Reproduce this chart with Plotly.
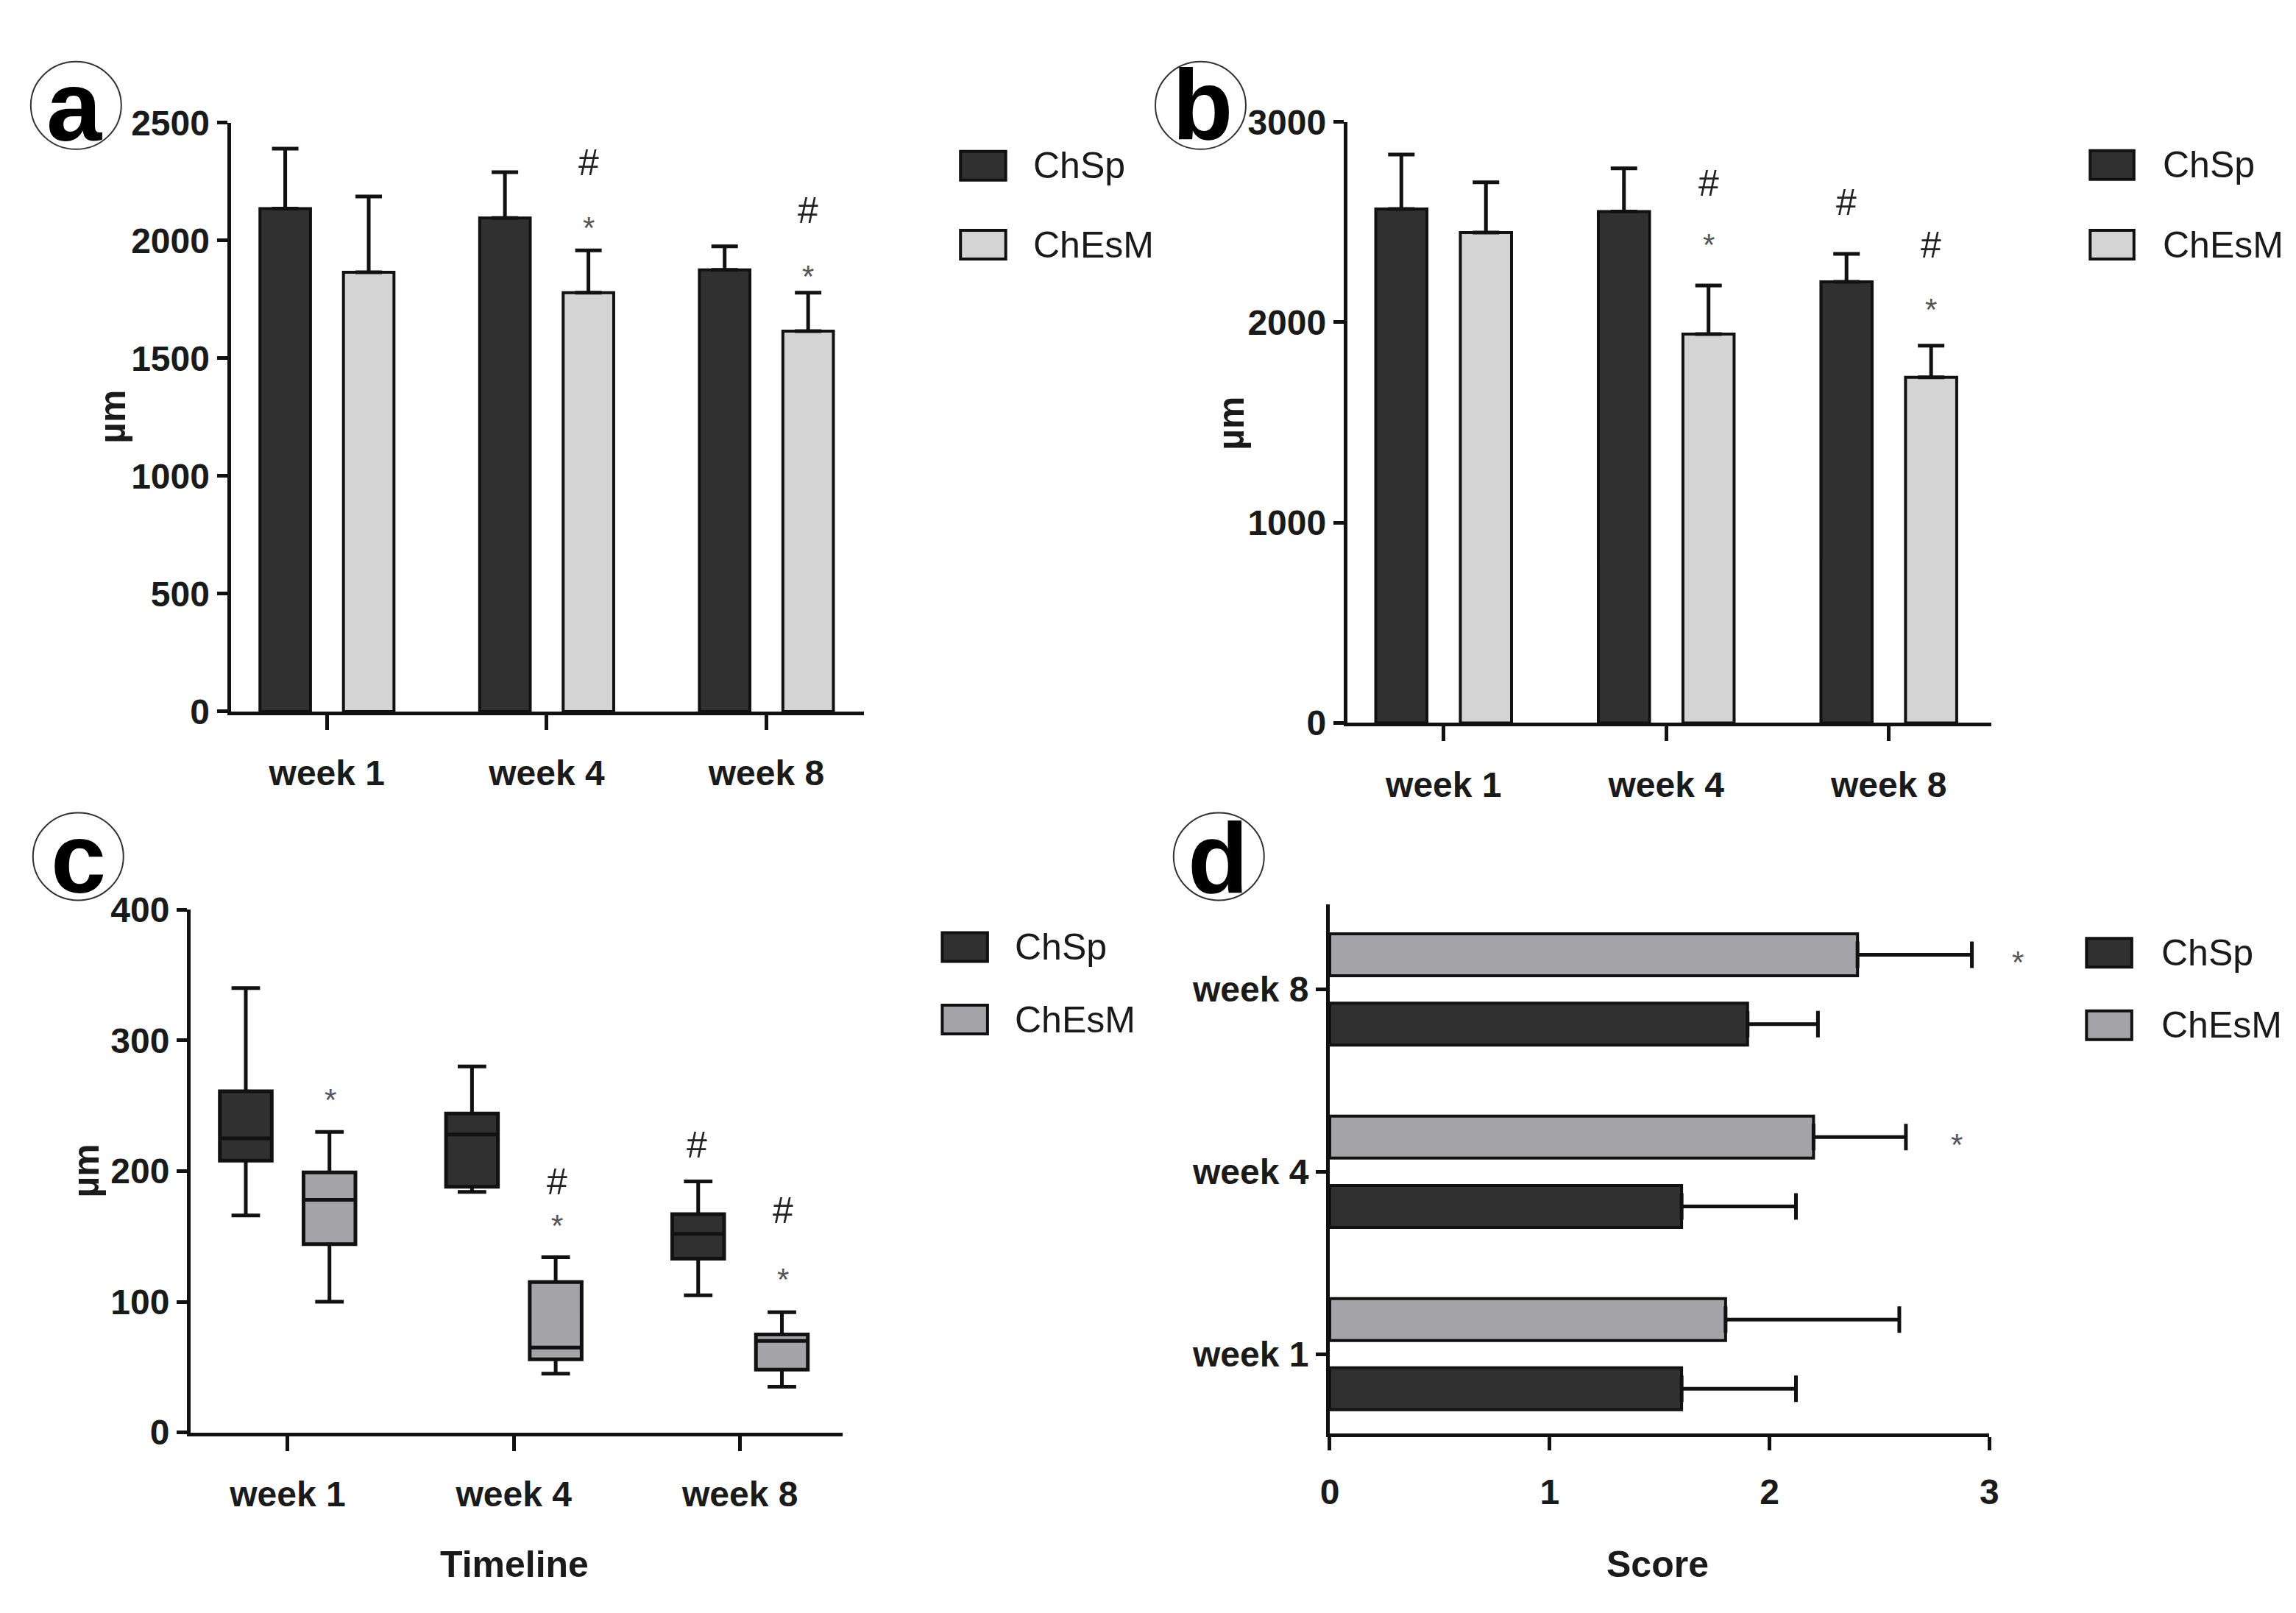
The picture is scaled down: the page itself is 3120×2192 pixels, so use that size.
import plotly.graph_objects as go

W, H = 3120, 2192

groups = ["ChSp", "ChEsM"]
weeks = ["week 1", "week 4", "week 8"]

# panel a (um)
a_chsp = [2135, 2095, 1875]
a_chsp_err = [255, 195, 100]
a_chesm = [1865, 1778, 1615]
a_chesm_err = [322, 180, 163]

# panel b (um)
b_chsp = [2566, 2553, 2202]
b_chsp_err = [271, 216, 140]
b_chesm = [2448, 1941, 1725]
b_chesm_err = [251, 243, 158]

# panel c box stats (um)
c_chsp_lo = [166, 184, 105]
c_chsp_q1 = [208, 188, 133]
c_chsp_med = [225, 228, 152]
c_chsp_q3 = [261, 244, 167]
c_chsp_hi = [340, 280, 192]
c_chesm_lo = [100, 45, 35]
c_chesm_q1 = [144, 56, 48]
c_chesm_med = [178, 65, 70]
c_chesm_q3 = [199, 115, 75]
c_chesm_hi = [230, 134, 92]

# panel d (score)
d_chsp = [1.6, 1.6, 1.9]
d_chsp_err = [0.52, 0.52, 0.32]
d_chesm = [1.8, 2.2, 2.4]
d_chesm_err = [0.79, 0.42, 0.52]

# significance marks: (week index, group index, symbol, value)
a_marks = [(1, 1, "#", 2330), (1, 1, "*", 2084), (2, 1, "#", 2126), (2, 1, "*", 1880)]
b_marks = [(1, 1, "#", 2694), (1, 1, "*", 2423), (2, 0, "#", 2598),
           (2, 1, "#", 2385), (2, 1, "*", 2101)]
c_marks = [(0, 1, "*", 260), (1, 1, "#", 192), (1, 1, "*", 164), (2, 0, "#", 220),
           (2, 1, "#", 170), (2, 1, "*", 123)]
d_marks = [(1, 1, "*", 2.85), (2, 1, "*", 3.13)]

DARK = "#303030"
LIGHT = "#d4d4d4"
MID = "#a3a3a8"
LINE = "#111111"
FONT = "Liberation Sans, Arial, sans-serif"

BW = 0.23
OFF = [-0.305, 0.075]
CENTERS = [-0.19, 0.19]

# panel d x-axis domain in pixels (for marks placed past the axis end)
D_X0, D_X1, D_MAX = 1801, 2705, 3


def px(x):
    return x / W


def py(y):
    return 1 - y / H


fig = go.Figure()


def add_bars(vals, errs, color, gi, xa, ya, horizontal=False):
    err = dict(type="data", array=errs, arrayminus=[0] * len(errs), symmetric=False,
               thickness=5, width=18, color=LINE)
    if horizontal:
        fig.add_trace(go.Bar(y=weeks, x=vals, orientation="h", width=BW, offset=OFF[gi],
                             marker=dict(color=color, line=dict(color=LINE, width=4)),
                             error_x=err, xaxis=xa, yaxis=ya, showlegend=False))
    else:
        fig.add_trace(go.Bar(x=weeks, y=vals, width=BW, offset=OFF[gi],
                             marker=dict(color=color, line=dict(color=LINE, width=4)),
                             error_y=err, xaxis=xa, yaxis=ya, showlegend=False))


add_bars(a_chsp, a_chsp_err, DARK, 0, "x", "y")
add_bars(a_chesm, a_chesm_err, LIGHT, 1, "x", "y")
add_bars(b_chsp, b_chsp_err, DARK, 0, "x2", "y2")
add_bars(b_chesm, b_chesm_err, LIGHT, 1, "x2", "y2")

fig.add_trace(go.Box(x=weeks, q1=c_chsp_q1, median=c_chsp_med, q3=c_chsp_q3,
                     lowerfence=c_chsp_lo, upperfence=c_chsp_hi, name=groups[0],
                     fillcolor=DARK, line=dict(color=LINE, width=5), whiskerwidth=0.55,
                     xaxis="x3", yaxis="y3", showlegend=False, offsetgroup="0"))
fig.add_trace(go.Box(x=weeks, q1=c_chesm_q1, median=c_chesm_med, q3=c_chesm_q3,
                     lowerfence=c_chesm_lo, upperfence=c_chesm_hi, name=groups[1],
                     fillcolor=MID, line=dict(color=LINE, width=5), whiskerwidth=0.55,
                     xaxis="x3", yaxis="y3", showlegend=False, offsetgroup="1"))

add_bars(d_chsp, d_chsp_err, DARK, 0, "x4", "y4", horizontal=True)
add_bars(d_chesm, d_chesm_err, MID, 1, "x4", "y4", horizontal=True)

axis_common = dict(showline=True, linecolor=LINE, linewidth=5, ticks="outside",
                   tickwidth=5, tickcolor=LINE, showgrid=False, zeroline=False,
                   tickfont=dict(family=FONT, size=48, color="#1a1a1a", weight="bold"))

cat_x = dict(type="category", categoryorder="array", categoryarray=weeks,
             ticklen=20, ticklabelstandoff=18, **axis_common)
num_y = dict(ticklen=14, **axis_common)

fig.update_layout(
    width=W, height=H, margin=dict(l=0, r=0, t=0, b=0),
    paper_bgcolor="white", plot_bgcolor="white",
    barmode="group", boxmode="group", boxgap=0.26, boxgroupgap=0.38,
    xaxis=dict(domain=[px(295), px(1163)], anchor="y", range=[-0.438, 2.445], **cat_x),
    yaxis=dict(domain=[py(956), py(136)], anchor="x", range=[0, 2500], dtick=500, **num_y),
    xaxis2=dict(domain=[px(1825), px(2708)], anchor="y2", range=[-0.433, 2.462], **cat_x),
    yaxis2=dict(domain=[py(972), py(135)], anchor="x2", range=[0, 3000], dtick=1000, **num_y),
    xaxis3=dict(domain=[px(240), px(1133)], anchor="y3", range=[-0.429, 2.452], **cat_x),
    yaxis3=dict(domain=[py(1960), py(1232)], anchor="x3", range=[0, 400], dtick=100, **num_y),
    xaxis4=dict(domain=[px(D_X0), px(D_X1)], anchor="y4", range=[0, D_MAX], dtick=1,
                ticklen=18, ticklabelstandoff=16, **axis_common),
    yaxis4=dict(domain=[py(1961), py(1225)], anchor="x4", type="category",
                categoryorder="array", categoryarray=weeks, range=[-0.433, 2.465],
                ticklen=14, **axis_common),
)

annotations = []
shapes = []

# significance marks
for marks, xa, ya in [(a_marks, "x", "y"), (b_marks, "x2", "y2"), (c_marks, "x3", "y3")]:
    for wi, gi, sym, val in marks:
        star = sym == "*"
        annotations.append(dict(x=wi + CENTERS[gi], y=val, xref=xa, yref=ya, text=sym,
                                xanchor="center", yanchor="middle",
                                showarrow=False, yshift=-10 if star else 0,
                                font=dict(family=FONT, size=42 if star else 50,
                                          color="#555555" if star else "#222222")))
for wi, gi, sym, val in d_marks:
    # some marks sit past the end of the x axis, so place them in paper space
    xp = px(D_X0 + val / D_MAX * (D_X1 - D_X0))
    annotations.append(dict(x=xp, y=wi + CENTERS[gi], xref="paper", yref="y4", text=sym,
                            xanchor="center", yanchor="middle", showarrow=False, yshift=-10,
                            font=dict(family=FONT, size=42, color="#555555")))

# legends
legend_specs = [
    (1295, 1357, 1393, [196, 306], [DARK, LIGHT]),
    (2843, 2903, 2940, [195, 306], [DARK, LIGHT]),
    (1270, 1332, 1367, [1284, 1385], [DARK, MID]),
    (2838, 2900, 2938, [1292, 1393], [DARK, MID]),
]
for x0, x1, tx, ys, cols in legend_specs:
    for name, yc, col in zip(groups, ys, cols):
        shapes.append(dict(type="rect", xref="paper", yref="paper",
                           x0=px(x0), x1=px(x1), y0=py(yc + 20), y1=py(yc - 20),
                           fillcolor=col, line=dict(color=LINE, width=4)))
        annotations.append(dict(x=px(tx), y=py(yc), xref="paper", yref="paper",
                                xanchor="left", yanchor="middle", text=name, showarrow=False,
                                font=dict(family=FONT, size=50, color="#1a1a1a")))

# panel letters in circles: (letter, circle centre, glyph box centre)
for letter, cx, cy, tx, ty in [("a", 83, 112, 81, 113), ("b", 1624, 112, 1627, 111),
                               ("c", 86, 1158, 86, 1161), ("d", 1649, 1158, 1648, 1161)]:
    shapes.append(dict(type="circle", xref="paper", yref="paper",
                       x0=px(cx - 62), x1=px(cx + 62), y0=py(cy + 61), y1=py(cy - 61),
                       line=dict(color="#333333", width=2)))
    annotations.append(dict(x=px(tx), y=py(ty), xref="paper", yref="paper",
                            xanchor="center", yanchor="middle",
                            text="<b>%s</b>" % letter, showarrow=False,
                            font=dict(family=FONT, size=135, color="black")))

# axis titles
for text, x, y, ang in [("µm", 133, 545, -90), ("µm", 1665, 555, -90), ("µm", 97, 1596, -90),
                        ("Timeline", 684, 2144, 0), ("Score", 2250, 2144, 0)]:
    annotations.append(dict(x=px(x), y=py(y), xref="paper", yref="paper", text=text,
                            xanchor="center", yanchor="middle",
                            textangle=ang, showarrow=False,
                            font=dict(family=FONT, size=50, color="#1a1a1a", weight="bold")))

fig.update_layout(annotations=annotations, shapes=shapes)

fig.write_html("out.html")
